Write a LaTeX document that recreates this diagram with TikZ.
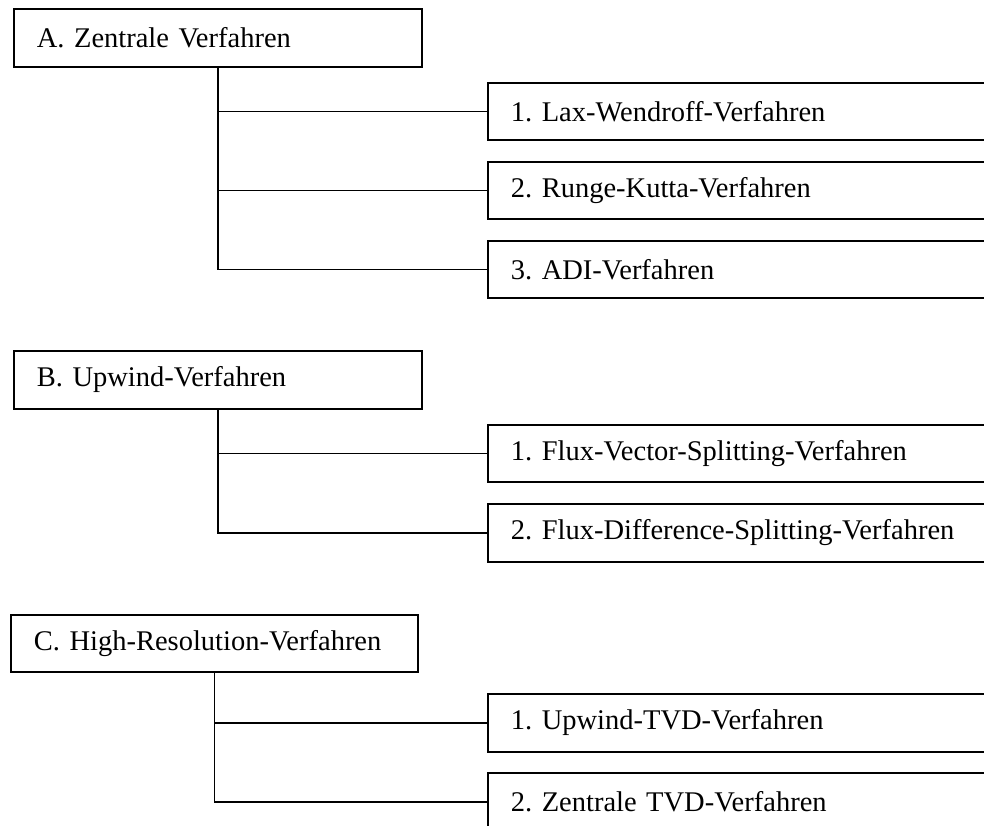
\documentclass[tikz,border=0pt]{standalone}
\usepackage{fontspec}
\setmainfont{Liberation Serif}
\frenchspacing
\begin{document}
\begin{tikzpicture}[x=1pt,y=-1pt,
  box/.style={draw, line width=1.8pt, anchor=north west, align=left, inner xsep=23pt, inner ysep=0pt,
    font=\fontsize{28.5}{34}\selectfont\frenchspacing},
  conn/.style={draw, line width=1.8pt}]
\clip (0,0) rectangle (984,825);
\useasboundingbox (0,0) rectangle (984,825);
% Group A
\node[box, text width=362pt, minimum height=58pt] (A) at (13,8) {A. Zentrale Verfahren};
\node[box, text width=467pt, minimum height=57pt] (a1) at (487,82) {1. Lax-Wendroff-Verfahren};
\node[box, text width=467pt, minimum height=57pt] (a2) at (487,161) {2. Runge-Kutta-Verfahren};
\node[box, text width=467pt, minimum height=57pt] (a3) at (487,240) {3. ADI-Verfahren};
\draw[conn] (A.south) |- (a1.west);
\draw[conn] (A.south) |- (a2.west);
\draw[conn] (A.south) |- (a3.west);
% Group B
\node[box, text width=362pt, minimum height=58pt] (B) at (13,350) {B. Upwind-Verfahren};
\node[box, text width=467pt, minimum height=57pt] (b1) at (487,424) {1. Flux-Vector-Splitting-Verfahren};
\node[box, text width=467pt, minimum height=58pt] (b2) at (487,503) {2. Flux-Difference-Splitting-Verfahren};
\draw[conn] (B.south) |- (b1.west);
\draw[conn] (B.south) |- (b2.west);
% Group C
\node[box, text width=361pt, minimum height=57pt] (C) at (10,614) {C. High-Resolution-Verfahren};
\node[box, text width=467pt, minimum height=58pt] (c1) at (487,693) {1. Upwind-TVD-Verfahren};
\node[box, text width=467pt, minimum height=58pt] (c2) at (487,772) {2. Zentrale TVD-Verfahren};
\draw[conn] (C.south) |- (c1.west);
\draw[conn] (C.south) |- (c2.west);
\end{tikzpicture}
\end{document}
